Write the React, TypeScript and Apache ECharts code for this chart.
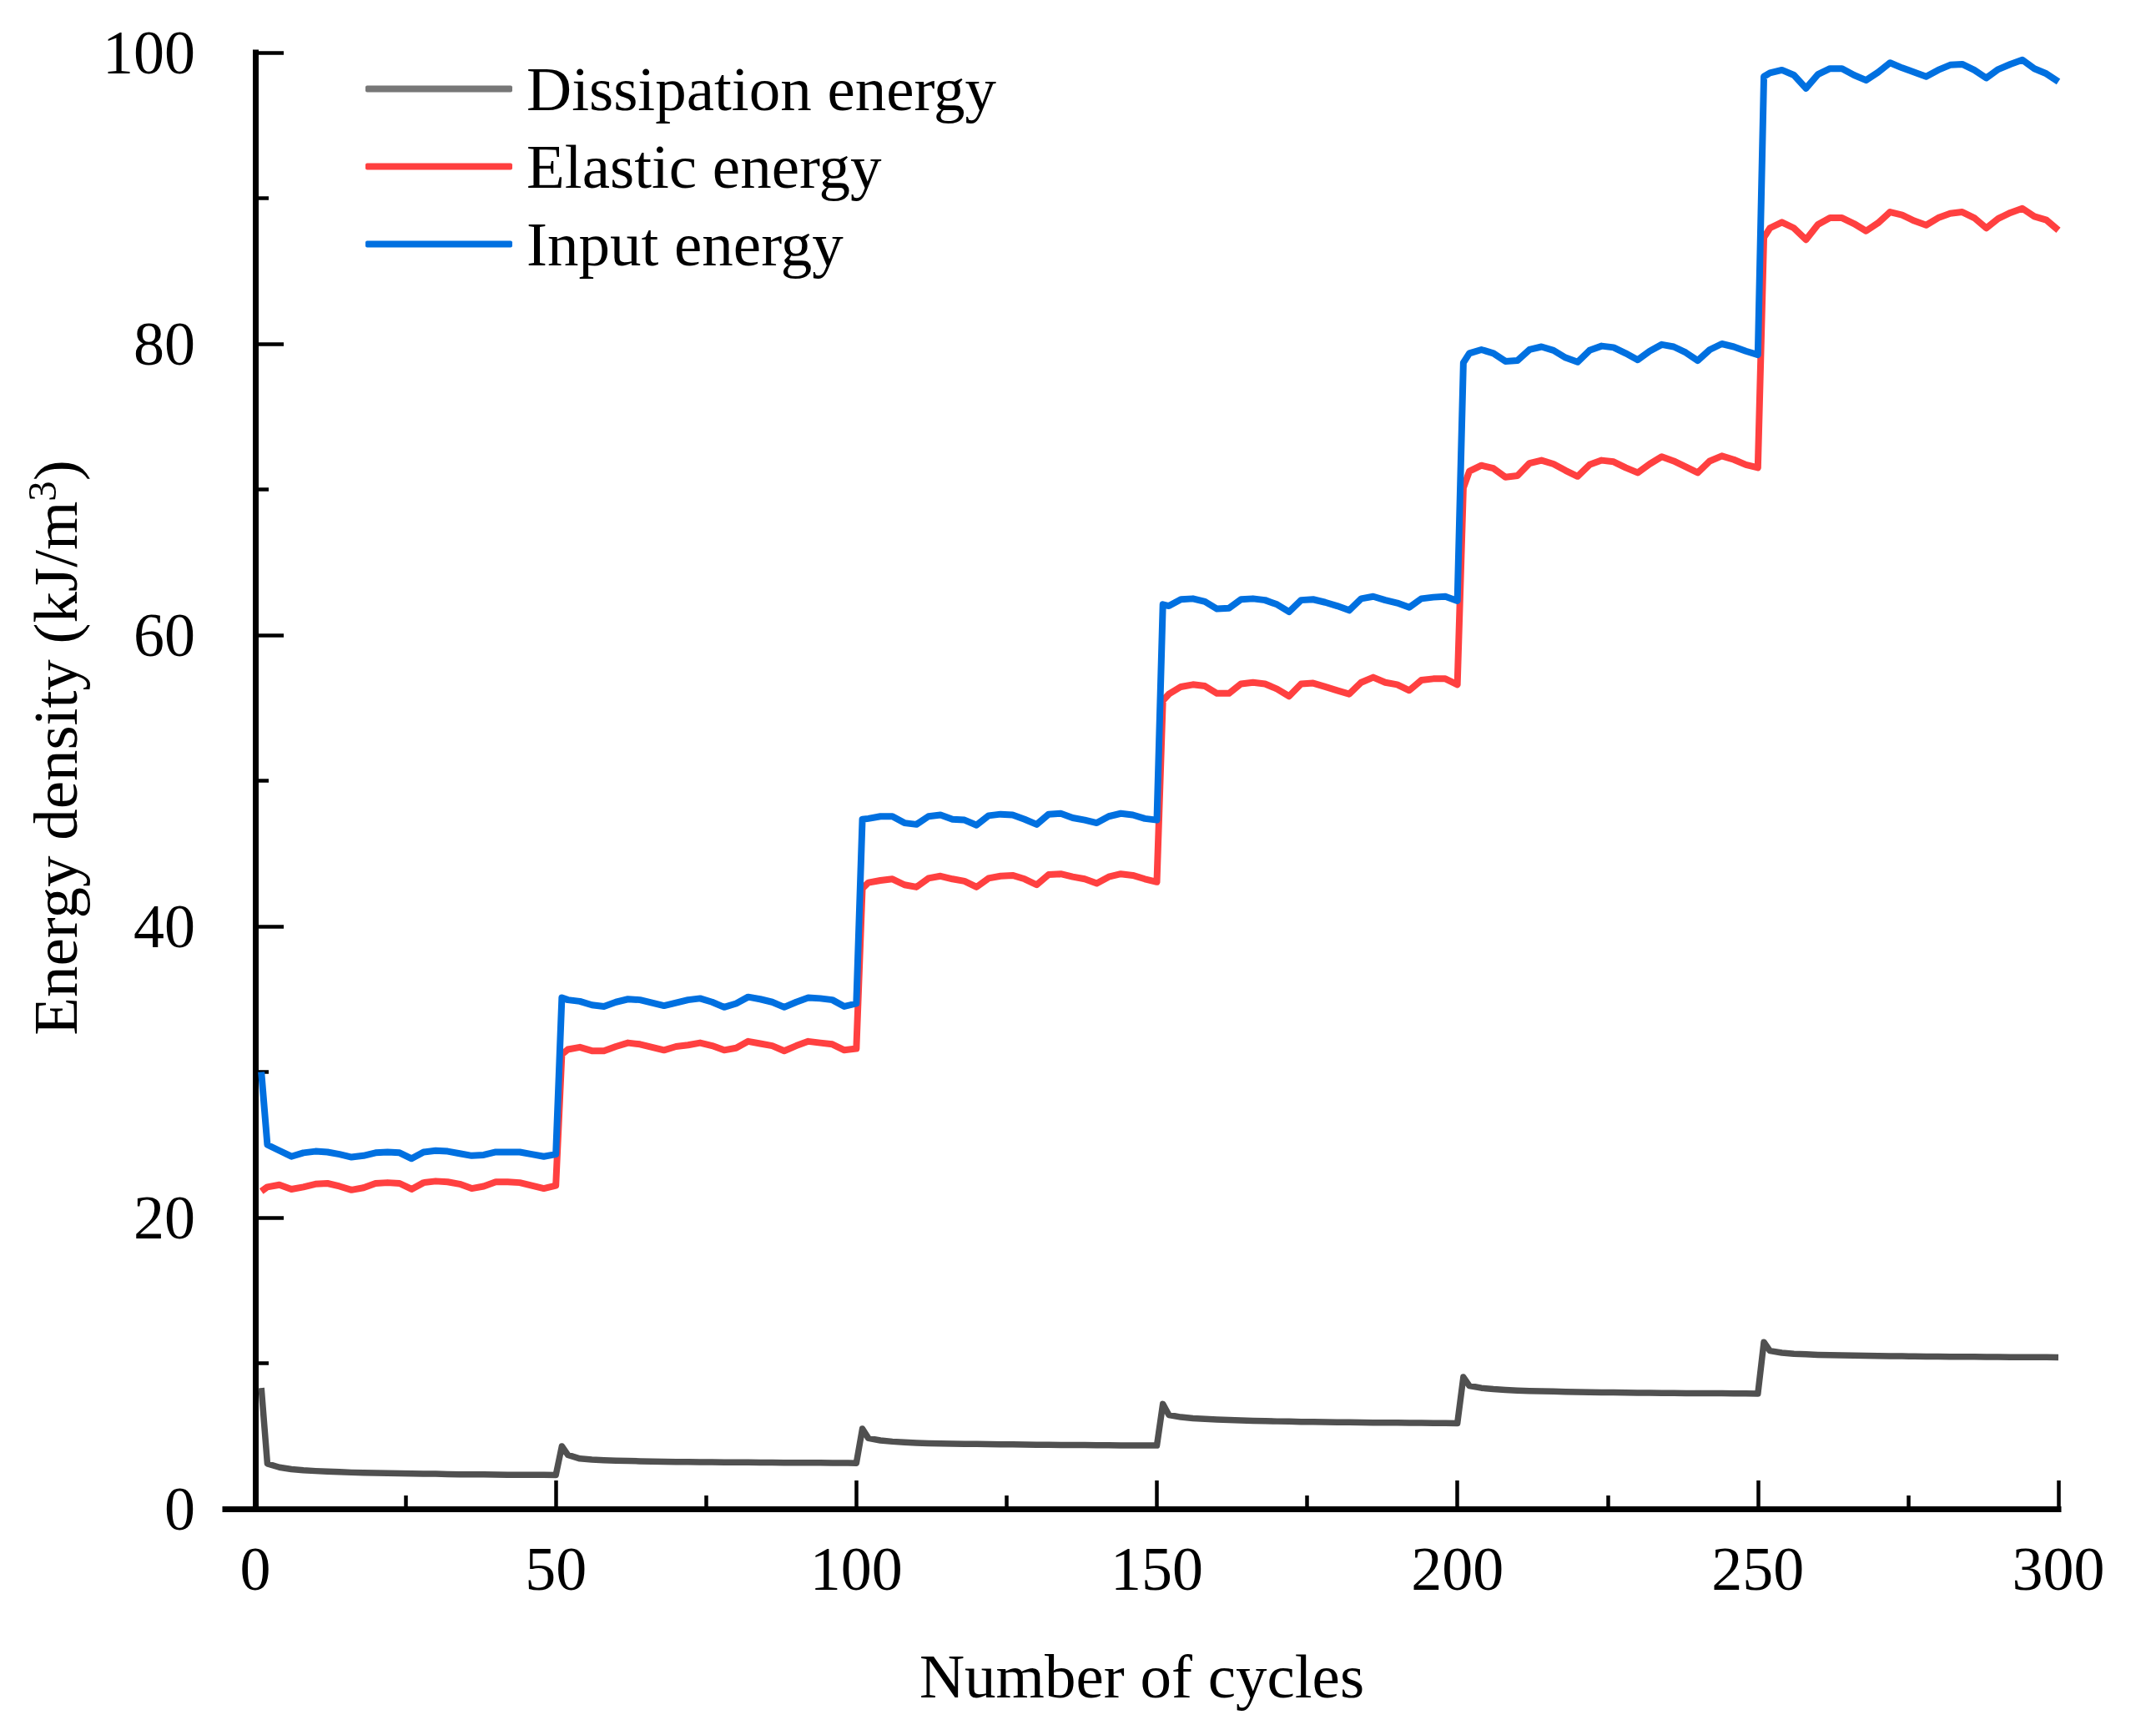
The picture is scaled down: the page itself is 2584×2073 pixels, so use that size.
import React, { useEffect, useRef } from "react";
import * as echarts from "echarts";

// Sampled cycle numbers (shared by all series)
const cycles = [
  1, 2, 4, 6, 8, 10, 12, 14, 16, 18, 20, 22, 24, 26, 28, 30, 32, 34, 36, 38, 40, 42, 44, 46, 48, 50,
  51, 52, 54, 56, 58, 60, 62, 64, 66, 68, 70, 72, 74, 76, 78, 80, 82, 84, 86, 88, 90, 92, 94, 96, 98, 100,
  101, 102, 104, 106, 108, 110, 112, 114, 116, 118, 120, 122, 124, 126, 128, 130, 132, 134, 136, 138, 140, 142, 144, 146, 148, 150,
  151, 152, 154, 156, 158, 160, 162, 164, 166, 168, 170, 172, 174, 176, 178, 180, 182, 184, 186, 188, 190, 192, 194, 196, 198, 200,
  201, 202, 204, 206, 208, 210, 212, 214, 216, 218, 220, 222, 224, 226, 228, 230, 232, 234, 236, 238, 240, 242, 244, 246, 248, 250,
  251, 252, 254, 256, 258, 260, 262, 264, 266, 268, 270, 272, 274, 276, 278, 280, 282, 284, 286, 288, 290, 292, 294, 296, 298, 300,
];

const dissipationEnergy = [
  8.3, 3.1, 2.85, 2.72, 2.65, 2.6, 2.56, 2.53, 2.5, 2.48, 2.46, 2.45, 2.43, 2.42, 2.41, 2.4, 2.38, 2.37, 2.36, 2.36, 2.35, 2.34, 2.34, 2.33, 2.33, 2.32,
  4.3, 3.7, 3.45, 3.38, 3.34, 3.31, 3.29, 3.27, 3.25, 3.24, 3.23, 3.22, 3.21, 3.21, 3.2, 3.19, 3.19, 3.18, 3.18, 3.17, 3.17, 3.16, 3.16, 3.15, 3.15, 3.14,
  5.5, 4.85, 4.7, 4.62, 4.57, 4.53, 4.5, 4.48, 4.47, 4.46, 4.45, 4.44, 4.43, 4.42, 4.41, 4.4, 4.4, 4.39, 4.38, 4.38, 4.37, 4.37, 4.36, 4.36, 4.35, 4.35,
  7.2, 6.45, 6.3, 6.22, 6.17, 6.13, 6.1, 6.07, 6.05, 6.03, 6.01, 6.0, 5.98, 5.97, 5.96, 5.95, 5.94, 5.93, 5.92, 5.91, 5.91, 5.9, 5.9, 5.89, 5.89, 5.88,
  9.05, 8.45, 8.3, 8.22, 8.17, 8.13, 8.1, 8.08, 8.06, 8.04, 8.02, 8.01, 8.0, 7.99, 7.98, 7.97, 7.96, 7.95, 7.95, 7.94, 7.94, 7.93, 7.93, 7.92, 7.92, 7.91,
  11.45, 10.85, 10.72, 10.65, 10.61, 10.58, 10.56, 10.54, 10.53, 10.52, 10.5, 10.49, 10.48, 10.47, 10.46, 10.46, 10.45, 10.44, 10.44, 10.43, 10.43, 10.42, 10.42, 10.41, 10.41, 10.4,
];

const elasticEnergy = [
  21.8, 22.1, 22.25, 21.95, 22.1, 22.3, 22.35, 22.15, 21.9, 22.05, 22.35, 22.4, 22.35, 21.95, 22.4, 22.5, 22.45, 22.3, 22.0, 22.15, 22.45, 22.45, 22.4, 22.2, 22.0, 22.2,
  31.2, 31.55, 31.7, 31.45, 31.45, 31.75, 32.0, 31.9, 31.7, 31.5, 31.75, 31.85, 32.0, 31.8, 31.5, 31.65, 32.1, 31.95, 31.8, 31.45, 31.8, 32.1, 32.0, 31.9, 31.5, 31.6,
  42.6, 43.0, 43.15, 43.25, 42.85, 42.7, 43.3, 43.45, 43.25, 43.1, 42.7, 43.3, 43.45, 43.5, 43.25, 42.85, 43.55, 43.6, 43.4, 43.25, 42.95, 43.4, 43.6, 43.5, 43.25, 43.05,
  55.5, 55.95, 56.45, 56.6, 56.5, 56.0, 56.0, 56.65, 56.75, 56.65, 56.3, 55.8, 56.65, 56.7, 56.45, 56.2, 55.95, 56.75, 57.1, 56.75, 56.6, 56.2, 56.9, 57.0, 57.0, 56.6,
  70.1, 71.25, 71.65, 71.45, 70.85, 70.95, 71.8, 72.0, 71.75, 71.3, 70.9, 71.7, 72.0, 71.9, 71.5, 71.15, 71.75, 72.25, 71.95, 71.55, 71.15, 71.95, 72.3, 72.05, 71.7, 71.5,
  87.3, 87.95, 88.35, 87.95, 87.15, 88.2, 88.65, 88.65, 88.25, 87.75, 88.3, 89.05, 88.85, 88.45, 88.15, 88.65, 88.95, 89.05, 88.65, 87.95, 88.6, 89.0, 89.3, 88.75, 88.5, 87.8,
];

const inputEnergy = [
  30.0, 25.0, 24.6, 24.2, 24.45, 24.55, 24.5, 24.35, 24.15, 24.25, 24.45, 24.5, 24.45, 24.05, 24.5, 24.6, 24.55, 24.4, 24.25, 24.3, 24.5, 24.5, 24.5, 24.35, 24.2, 24.35,
  35.1, 34.95, 34.85, 34.6, 34.5, 34.8, 35.0, 34.95, 34.75, 34.55, 34.75, 34.95, 35.05, 34.8, 34.45, 34.7, 35.15, 35.0, 34.8, 34.45, 34.8, 35.1, 35.05, 34.95, 34.5, 34.7,
  47.35, 47.4, 47.55, 47.55, 47.1, 47.0, 47.55, 47.65, 47.35, 47.3, 46.95, 47.6, 47.7, 47.65, 47.35, 47.0, 47.7, 47.75, 47.45, 47.3, 47.1, 47.55, 47.75, 47.65, 47.4, 47.3,
  62.1, 62.0, 62.45, 62.5, 62.3, 61.8, 61.85, 62.45, 62.5, 62.4, 62.1, 61.6, 62.4, 62.45, 62.25, 62.0, 61.7, 62.5, 62.65, 62.4, 62.2, 61.9, 62.5, 62.6, 62.65, 62.35,
  78.7, 79.35, 79.6, 79.35, 78.8, 78.85, 79.6, 79.8, 79.55, 79.05, 78.75, 79.55, 79.85, 79.75, 79.35, 78.9, 79.5, 79.95, 79.8, 79.4, 78.85, 79.6, 80.0, 79.8, 79.5, 79.25,
  98.35, 98.6, 98.8, 98.45, 97.55, 98.5, 98.9, 98.9, 98.45, 98.1, 98.65, 99.3, 98.95, 98.65, 98.35, 98.8, 99.15, 99.2, 98.8, 98.25, 98.85, 99.2, 99.5, 98.9, 98.55, 98.0,
];

const xMajorTicks = [0, 50, 100, 150, 200, 250, 300];
const xMinorTicks = [25, 75, 125, 175, 225, 275];
const seriesNames = ["Dissipation energy", "Elastic energy", "Input energy"];

export default function App() {
  const ref = useRef<HTMLDivElement>(null);

  useEffect(() => {
    document.body.style.margin = "0";
    const chart = echarts.init(ref.current as HTMLDivElement, null, { renderer: "svg" });
    const font = "'Liberation Serif', 'Times New Roman', serif";
    const toPairs = (arr: number[]) => cycles.map((c, i) => [c, arr[i]]);
    const tickStyle = { color: "#000", width: 4.5 };

    chart.setOption({
      animation: false,
      backgroundColor: "#ffffff",
      textStyle: { fontFamily: font },
      grid: { left: 270, top: 63, width: 2197, height: 1745, containLabel: false },
      legend: {
        orient: "vertical",
        left: 433,
        top: 64,
        icon: "roundRect",
        itemWidth: 176,
        itemHeight: 8,
        itemGap: 18,
        textStyle: { fontFamily: font, fontSize: 75, color: "#000", lineHeight: 75, padding: [0, 0, 0, 12] },
        data: [
          { name: seriesNames[0], itemStyle: { color: "#777777" } },
          { name: seriesNames[1], itemStyle: { color: "#FF4040" } },
          { name: seriesNames[2], itemStyle: { color: "#0070E0" } },
        ],
      },
      xAxis: [
        {
          type: "value",
          min: -5,
          max: 300,
          position: "bottom",
          axisLine: { show: true, lineStyle: { color: "#000", width: 7, cap: "square" } },
          axisTick: { show: true, inside: true, length: 34, customValues: xMajorTicks, lineStyle: tickStyle },
          axisLabel: { customValues: xMajorTicks, fontSize: 74, color: "#000", fontFamily: font, margin: 35 },
          splitLine: { show: false },
          name: "Number of cycles",
          nameLocation: "middle",
          nameGap: 163,
          nameTextStyle: { fontSize: 75, color: "#000", fontFamily: font },
        },
        {
          type: "value",
          min: -5,
          max: 300,
          position: "bottom",
          gridIndex: 0,
          axisLine: { show: false },
          axisTick: { show: true, inside: true, length: 16, customValues: xMinorTicks, lineStyle: tickStyle },
          axisLabel: { show: false },
          splitLine: { show: false },
        },
      ],
      yAxis: {
        type: "value",
        min: 0,
        max: 100,
        interval: 20,
        axisLine: { show: true, lineStyle: { color: "#000", width: 7, cap: "square" } },
        axisTick: { show: true, inside: true, length: 34, lineStyle: tickStyle },
        minorTick: { show: true, splitNumber: 2, length: 16, lineStyle: tickStyle },
        axisLabel: { fontSize: 74, color: "#000", fontFamily: font, margin: 36 },
        splitLine: { show: false },
        minorSplitLine: { show: false },
      },
      graphic: [
        {
          type: "text",
          x: 66,
          y: 896,
          rotation: Math.PI / 2,
          style: {
            text: "{a|Energy density (kJ/m}{b|3}{a|)}",
            align: "center",
            verticalAlign: "middle",
            fill: "#000",
            rich: {
              a: { fontSize: 75, fontFamily: font, lineHeight: 80, verticalAlign: "middle", fill: "#000" },
              b: { fontSize: 49, fontFamily: font, lineHeight: 40, verticalAlign: "top", fill: "#000" },
            },
          },
        },
      ],
      series: [
        {
          name: seriesNames[0],
          type: "line",
          xAxisIndex: 0,
          data: toPairs(dissipationEnergy),
          showSymbol: false,
          symbol: "none",
          lineStyle: { color: "#505050", width: 7.5, join: "round" },
          itemStyle: { color: "#505050" },
        },
        {
          name: seriesNames[1],
          type: "line",
          xAxisIndex: 0,
          data: toPairs(elasticEnergy),
          showSymbol: false,
          symbol: "none",
          lineStyle: { color: "#FF4040", width: 8, join: "round" },
          itemStyle: { color: "#FF4040" },
        },
        {
          name: seriesNames[2],
          type: "line",
          xAxisIndex: 0,
          data: toPairs(inputEnergy),
          showSymbol: false,
          symbol: "none",
          lineStyle: { color: "#0070E0", width: 8, join: "round" },
          itemStyle: { color: "#0070E0" },
        },
      ],
    });

    return () => chart.dispose();
  }, []);

  return (
    <div
      ref={ref}
      style={{ position: "absolute", left: 0, top: 0, width: 2584, height: 2073 }}
    />
  );
}
